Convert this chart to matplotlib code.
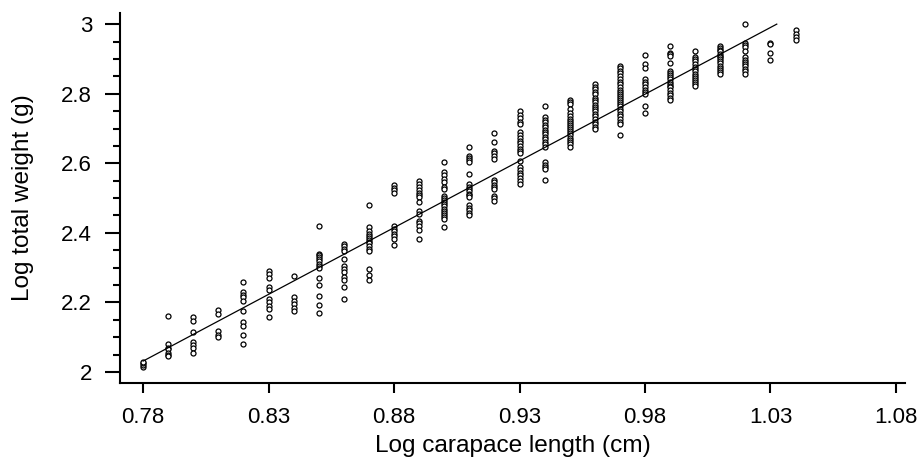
import matplotlib
matplotlib.use("Agg")
import matplotlib.pyplot as plt
from matplotlib.ticker import MultipleLocator, FixedLocator
import numpy as np

plt.rcParams['font.family'] = ['Liberation Sans', 'DejaVu Sans']

# Log carapace length levels (cm)
x_levels = [0.78, 0.79, 0.80, 0.81, 0.82, 0.83, 0.84, 0.85, 0.86, 0.87, 0.88,
            0.89, 0.90, 0.91, 0.92, 0.93, 0.94, 0.95, 0.96, 0.97, 0.98, 0.99,
            1.00, 1.01, 1.02, 1.03, 1.04]

# Log total weight (g) observed at each level
y_078 = [2.015, 2.02, 2.025, 2.03]
y_079 = [2.16, 2.08, 2.07, 2.065, 2.055, 2.05, 2.045]
y_080 = [2.158, 2.146, 2.115, 2.087, 2.077, 2.068, 2.056]
y_081 = [2.178, 2.168, 2.117, 2.106, 2.10]
y_082 = [2.26, 2.23, 2.222, 2.216, 2.204, 2.176, 2.144, 2.133, 2.106, 2.082]
y_083 = [2.29, 2.283, 2.271, 2.244, 2.235, 2.21, 2.2, 2.19, 2.18, 2.157]
y_084 = [2.275, 2.215, 2.205, 2.195, 2.185, 2.175]
y_085 = [2.421, 2.34, 2.335, 2.33, 2.325, 2.318, 2.31, 2.305, 2.298, 2.271,
         2.251, 2.218, 2.192, 2.171]
y_086 = [2.369, 2.362, 2.355, 2.348, 2.326, 2.304, 2.296, 2.287, 2.273, 2.264,
         2.244, 2.211]
y_087 = [2.479, 2.416, 2.405, 2.398, 2.39, 2.385, 2.38, 2.375, 2.37, 2.362,
         2.355, 2.348, 2.297, 2.278, 2.264]
y_088 = [2.539, 2.53, 2.522, 2.514, 2.421, 2.412, 2.404, 2.397, 2.39, 2.383,
         2.366]
y_089 = [2.548, 2.54, 2.532, 2.524, 2.516, 2.508, 2.502, 2.488, 2.462, 2.453,
         2.435, 2.428, 2.42, 2.407, 2.383]
y_090 = [2.605, 2.574, 2.566, 2.555, 2.545, 2.533, 2.526, 2.507, 2.5, 2.494,
         2.488, 2.482, 2.476, 2.47, 2.464, 2.458, 2.452, 2.446, 2.44, 2.418]
y_091 = [2.648, 2.622, 2.615, 2.609, 2.603, 2.569, 2.54, 2.533, 2.526, 2.52,
         2.513, 2.508, 2.502, 2.479, 2.472, 2.465, 2.458, 2.45]
y_092 = [2.687, 2.661, 2.636, 2.629, 2.622, 2.612, 2.552, 2.545, 2.538, 2.532,
         2.526, 2.507, 2.5, 2.493]
y_093 = [2.751, 2.74, 2.73, 2.72, 2.713, 2.689, 2.68, 2.672, 2.665, 2.657,
         2.65, 2.642, 2.635, 2.631, 2.606, 2.588, 2.58, 2.572, 2.565, 2.557,
         2.548, 2.54]
y_094 = [2.765, 2.732, 2.725, 2.718, 2.711, 2.704, 2.697, 2.69, 2.683, 2.676,
         2.669, 2.662, 2.655, 2.648, 2.603, 2.596, 2.59, 2.584, 2.552]
y_095 = [2.781, 2.775, 2.77, 2.755, 2.745, 2.735, 2.728, 2.722, 2.716, 2.71,
         2.704, 2.698, 2.692, 2.686, 2.68, 2.674, 2.668, 2.662, 2.656, 2.646]
y_096 = [2.827, 2.82, 2.813, 2.806, 2.798, 2.789, 2.782, 2.775, 2.768, 2.761,
         2.755, 2.751, 2.742, 2.735, 2.728, 2.72, 2.712, 2.705, 2.698]
y_097 = [2.88, 2.873, 2.866, 2.86, 2.851, 2.843, 2.835, 2.827, 2.819, 2.812,
         2.806, 2.8, 2.794, 2.788, 2.782, 2.776, 2.77, 2.764, 2.757, 2.75,
         2.742, 2.735, 2.728, 2.72, 2.713, 2.682]
y_098 = [2.911, 2.884, 2.875, 2.841, 2.834, 2.827, 2.82, 2.812, 2.805, 2.798,
         2.765, 2.744]
y_099 = [2.937, 2.918, 2.913, 2.908, 2.889, 2.865, 2.859, 2.853, 2.847, 2.841,
         2.835, 2.829, 2.822, 2.818, 2.81, 2.802, 2.795, 2.788, 2.781]
y_100 = [2.923, 2.905, 2.9, 2.894, 2.884, 2.877, 2.87, 2.864, 2.858, 2.852,
         2.846, 2.84, 2.834, 2.828, 2.822]
y_101 = [2.937, 2.932, 2.927, 2.923, 2.915, 2.908, 2.905, 2.899, 2.893, 2.887,
         2.881, 2.875, 2.869, 2.863, 2.856]
y_102 = [3.001, 2.947, 2.94, 2.933, 2.923, 2.905, 2.898, 2.891, 2.884, 2.88,
         2.872, 2.864, 2.856]
y_103 = [2.947, 2.942, 2.918, 2.898]
y_104 = [2.982, 2.972, 2.963, 2.955]

y_columns = [y_078, y_079, y_080, y_081, y_082, y_083, y_084, y_085, y_086,
             y_087, y_088, y_089, y_090, y_091, y_092, y_093, y_094, y_095,
             y_096, y_097, y_098, y_099, y_100, y_101, y_102, y_103, y_104]

# Fitted regression line end points
fit_x = [0.78, 1.0325]
fit_y = [2.0315, 3.0]

x_ticks = [0.78, 0.83, 0.88, 0.93, 0.98, 1.03, 1.08]
x_ticklabels = ["0.78", "0.83", "0.88", "0.93", "0.98", "1.03", "1.08"]
y_ticks = [2.0, 2.2, 2.4, 2.6, 2.8, 3.0]
y_ticklabels = ["2", "2.2", "2.4", "2.6", "2.8", "3"]

W, H = 922, 459
fig = plt.figure(figsize=(W / 100, H / 100), dpi=100)
ax = fig.add_axes([120 / W, 1 - 383 / H, (905 - 120) / W, (383 - 13) / H])

xs = np.concatenate([[x] * len(ys) for x, ys in zip(x_levels, y_columns)])
ys_all = np.concatenate(y_columns)
ax.plot(xs, ys_all, linestyle='none', marker='o', markersize=3.6,
        markerfacecolor='white', markeredgecolor='black', markeredgewidth=0.9)
ax.plot(fit_x, fit_y, color='black', linewidth=0.9)

ax.set_xlim(0.7708, 1.0836)
ax.set_ylim(1.9685, 3.032)

ax.xaxis.set_major_locator(FixedLocator(x_ticks))
ax.set_xticklabels(x_ticklabels)
ax.yaxis.set_major_locator(FixedLocator(y_ticks))
ax.set_yticklabels(y_ticklabels)
ax.yaxis.set_minor_locator(MultipleLocator(0.05))

for s in ['top', 'right']:
    ax.spines[s].set_visible(False)
for s in ['left', 'bottom']:
    ax.spines[s].set_linewidth(1.5)

ax.tick_params(axis='x', which='major', length=7, width=1.5, labelsize=16, pad=10)
ax.tick_params(axis='y', which='major', length=11, width=1.5, labelsize=16, pad=9)
ax.tick_params(axis='y', which='minor', length=5, width=1.5)

ax.set_xlabel("Log carapace length (cm)", fontsize=17.6, labelpad=5)
ax.set_ylabel("Log total weight (g)", fontsize=17.6, labelpad=20)

fig.savefig("out.png", dpi=100)
